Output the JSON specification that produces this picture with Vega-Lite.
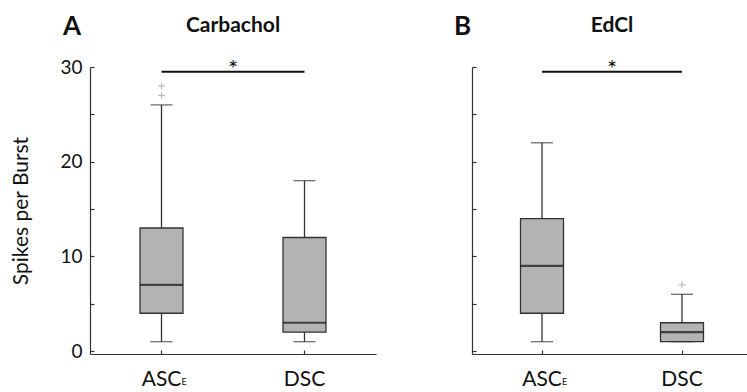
{
  "$schema": "https://vega.github.io/schema/vega-lite/v6.json",
  "background": "white",
  "padding": {"left": 10, "top": 13, "right": 0, "bottom": 0},
  "config": {
    "font": "Lato",
    "view": {"stroke": null},
    "axis": {
      "grid": false,
      "domainColor": "#333333",
      "domainWidth": 1.2,
      "tickColor": "#333333",
      "tickWidth": 1.2,
      "labelColor": "#111111",
      "titleColor": "#111111",
      "labelFont": "Lato",
      "titleFont": "Lato"
    },
    "title": {"font": "Lato", "color": "#111111"}
  },
  "datasets": {
    "boxes": [
      {"panel": "Carbachol", "group": "ASC_E", "lower": 1, "q1": 4, "median": 7, "q3": 13, "upper": 26},
      {"panel": "Carbachol", "group": "DSC", "lower": 1, "q1": 2, "median": 3, "q3": 12, "upper": 18},
      {"panel": "EdCl", "group": "ASC_E", "lower": 1, "q1": 4, "median": 9, "q3": 14, "upper": 22},
      {"panel": "EdCl", "group": "DSC", "lower": 1, "q1": 1, "median": 2, "q3": 3, "upper": 6}
    ],
    "outliers": [
      {"panel": "Carbachol", "group": "ASC_E", "value": 27},
      {"panel": "Carbachol", "group": "ASC_E", "value": 28},
      {"panel": "EdCl", "group": "DSC", "value": 7}
    ],
    "significance": [
      {"panel": "Carbachol", "group": "ASC_E", "to": "DSC", "y": 29.5, "label": "*"},
      {"panel": "EdCl", "group": "ASC_E", "to": "DSC", "y": 29.5, "label": "*"}
    ]
  },
  "spacing": 78,
  "hconcat": [
    {
      "title": {"text": "A", "anchor": "start", "frame": "group", "fontSize": 26, "fontWeight": "bold", "offset": 0, "dx": -27, "dy": 25},
      "vconcat": [
        {
          "title": {"text": "Carbachol", "fontSize": 21, "fontWeight": "bold", "anchor": "middle", "offset": 22},
          "width": 286,
          "height": 287,
          "encoding": {
            "x": {
              "field": "group", "type": "nominal",
              "scale": {"domain": ["ASC_E", "DSC"], "paddingInner": 0, "paddingOuter": 0},
              "axis": {"title": null, "labelAngle": 0, "labelFontSize": 21, "labelPadding": 18, "tickSize": -4,
                       "labelExpr": "datum.value === 'ASC_E' ? 'ASC' : datum.value"}
            }
          },
          "layer": [
            {
              "data": {"name": "boxes"},
              "transform": [{"filter": "datum.panel === 'Carbachol'"}],
              "mark": {"type": "rule", "color": "#333333", "strokeWidth": 1.3},
              "encoding": {
                "y": {"field": "lower", "type": "quantitative",
                      "scale": {"domain": [-0.3, 30], "nice": false, "zero": false},
                      "axis": {"title": "Spikes per Burst", "titleFontSize": 21, "titleFontWeight": "normal", "titlePadding": 28,
                               "values": [0, 5, 10, 15, 20, 25, 30], "labelFontSize": 19, "labelPadding": 12, "tickSize": -4,
                               "labelExpr": "datum.value % 10 === 0 ? datum.label : ''"}},
                "y2": {"field": "upper"}
              }
            },
            {
              "data": {"name": "boxes"},
              "transform": [{"filter": "datum.panel === 'Carbachol'"}],
              "mark": {"type": "bar", "size": 43, "fill": "#b3b3b3", "stroke": "#333333", "strokeWidth": 1.3},
              "encoding": {"y": {"field": "q1", "type": "quantitative"}, "y2": {"field": "q3"}}
            },
            {
              "data": {"name": "boxes"},
              "transform": [{"filter": "datum.panel === 'Carbachol'"}],
              "mark": {"type": "tick", "size": 43, "thickness": 2.2, "color": "#111111", "orient": "horizontal"},
              "encoding": {"y": {"field": "median", "type": "quantitative"}}
            },
            {
              "data": {"name": "boxes"},
              "transform": [{"filter": "datum.panel === 'Carbachol'"}],
              "mark": {"type": "tick", "size": 22, "thickness": 1.3, "color": "#333333", "orient": "horizontal"},
              "encoding": {"y": {"field": "lower", "type": "quantitative"}}
            },
            {
              "data": {"name": "boxes"},
              "transform": [{"filter": "datum.panel === 'Carbachol'"}],
              "mark": {"type": "tick", "size": 22, "thickness": 1.3, "color": "#333333", "orient": "horizontal"},
              "encoding": {"y": {"field": "upper", "type": "quantitative"}}
            },
            {
              "data": {"name": "outliers"},
              "transform": [{"filter": "datum.panel === 'Carbachol'"}],
              "mark": {"type": "point", "shape": "M-1,0L1,0M0,-1L0,1", "filled": false, "size": 49, "color": "#a0a0a0", "strokeWidth": 1.2},
              "encoding": {"y": {"field": "value", "type": "quantitative"}}
            },
            {
              "data": {"name": "significance"},
              "transform": [{"filter": "datum.panel === 'Carbachol'"}],
              "mark": {"type": "rule", "color": "#111111", "strokeWidth": 2},
              "encoding": {"x2": {"field": "to"}, "y": {"field": "y", "type": "quantitative"}}
            },
            {
              "data": {"name": "significance"},
              "transform": [{"filter": "datum.panel === 'Carbachol'"}],
              "mark": {"type": "text", "fontSize": 24, "baseline": "alphabetic", "dy": 5, "color": "#111111"},
              "encoding": {
                "x": {"field": "group", "type": "nominal", "bandPosition": 1},
                "y": {"field": "y", "type": "quantitative"},
                "text": {"field": "label"}
              }
            },
            {
              "data": {"name": "boxes"},
              "transform": [{"filter": "datum.panel === 'Carbachol' && datum.group === 'ASC_E'"}],
              "mark": {"type": "text", "text": "E", "fontSize": 9, "align": "left", "baseline": "alphabetic", "dx": 20, "color": "#111111"},
              "encoding": {"y": {"datum": -3.6, "type": "quantitative"}}
            }
          ]
        }
      ]
    },
    {
      "title": {"text": "B", "anchor": "start", "frame": "group", "fontSize": 26, "fontWeight": "bold", "offset": 0, "dx": -18, "dy": 25},
      "vconcat": [
        {
          "title": {"text": "EdCl", "fontSize": 21, "fontWeight": "bold", "anchor": "middle", "offset": 22},
          "width": 280,
          "height": 287,
          "encoding": {
            "x": {
              "field": "group", "type": "nominal",
              "scale": {"domain": ["ASC_E", "DSC"], "paddingInner": 0, "paddingOuter": 0},
              "axis": {"title": null, "labelAngle": 0, "labelFontSize": 21, "labelPadding": 18, "tickSize": -4,
                       "labelExpr": "datum.value === 'ASC_E' ? 'ASC' : datum.value"}
            }
          },
          "layer": [
            {
              "data": {"name": "boxes"},
              "transform": [{"filter": "datum.panel === 'EdCl'"}],
              "mark": {"type": "rule", "color": "#333333", "strokeWidth": 1.3},
              "encoding": {
                "y": {"field": "lower", "type": "quantitative",
                      "scale": {"domain": [-0.3, 30], "nice": false, "zero": false},
                      "axis": {"title": null, "labels": false, "values": [0, 5, 10, 15, 20, 25, 30], "tickSize": -4}},
                "y2": {"field": "upper"}
              }
            },
            {
              "data": {"name": "boxes"},
              "transform": [{"filter": "datum.panel === 'EdCl'"}],
              "mark": {"type": "bar", "size": 43, "fill": "#b3b3b3", "stroke": "#333333", "strokeWidth": 1.3},
              "encoding": {"y": {"field": "q1", "type": "quantitative"}, "y2": {"field": "q3"}}
            },
            {
              "data": {"name": "boxes"},
              "transform": [{"filter": "datum.panel === 'EdCl'"}],
              "mark": {"type": "tick", "size": 43, "thickness": 2.2, "color": "#111111", "orient": "horizontal"},
              "encoding": {"y": {"field": "median", "type": "quantitative"}}
            },
            {
              "data": {"name": "boxes"},
              "transform": [{"filter": "datum.panel === 'EdCl'"}],
              "mark": {"type": "tick", "size": 22, "thickness": 1.3, "color": "#333333", "orient": "horizontal"},
              "encoding": {"y": {"field": "lower", "type": "quantitative"}}
            },
            {
              "data": {"name": "boxes"},
              "transform": [{"filter": "datum.panel === 'EdCl'"}],
              "mark": {"type": "tick", "size": 22, "thickness": 1.3, "color": "#333333", "orient": "horizontal"},
              "encoding": {"y": {"field": "upper", "type": "quantitative"}}
            },
            {
              "data": {"name": "outliers"},
              "transform": [{"filter": "datum.panel === 'EdCl'"}],
              "mark": {"type": "point", "shape": "M-1,0L1,0M0,-1L0,1", "filled": false, "size": 49, "color": "#a0a0a0", "strokeWidth": 1.2},
              "encoding": {"y": {"field": "value", "type": "quantitative"}}
            },
            {
              "data": {"name": "significance"},
              "transform": [{"filter": "datum.panel === 'EdCl'"}],
              "mark": {"type": "rule", "color": "#111111", "strokeWidth": 2},
              "encoding": {"x2": {"field": "to"}, "y": {"field": "y", "type": "quantitative"}}
            },
            {
              "data": {"name": "significance"},
              "transform": [{"filter": "datum.panel === 'EdCl'"}],
              "mark": {"type": "text", "fontSize": 24, "baseline": "alphabetic", "dy": 5, "color": "#111111"},
              "encoding": {
                "x": {"field": "group", "type": "nominal", "bandPosition": 1},
                "y": {"field": "y", "type": "quantitative"},
                "text": {"field": "label"}
              }
            },
            {
              "data": {"name": "boxes"},
              "transform": [{"filter": "datum.panel === 'EdCl' && datum.group === 'ASC_E'"}],
              "mark": {"type": "text", "text": "E", "fontSize": 9, "align": "left", "baseline": "alphabetic", "dx": 20, "color": "#111111"},
              "encoding": {"y": {"datum": -3.6, "type": "quantitative"}}
            }
          ]
        }
      ]
    }
  ]
}
